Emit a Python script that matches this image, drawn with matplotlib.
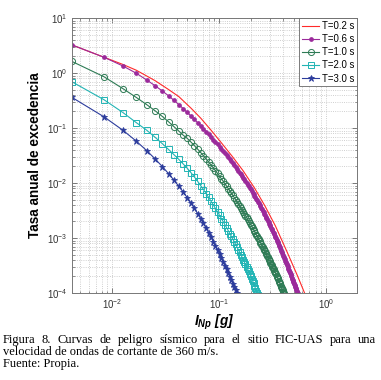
import matplotlib
matplotlib.use('Agg')
import numpy as np
import matplotlib.pyplot as plt
from matplotlib.ticker import LogLocator, NullFormatter

plt.rcParams['font.family'] = ['Liberation Sans', 'DejaVu Sans']
plt.rcParams['mathtext.fontset'] = 'custom'
plt.rcParams['mathtext.rm'] = 'Liberation Sans'
plt.rcParams['mathtext.it'] = 'Liberation Sans:italic:bold'
plt.rcParams['mathtext.bf'] = 'Liberation Sans:bold'

# ---------------- data ----------------
# intensity grid (g) shared by the marker series
intensity_g = [
    0.0042, 0.0084, 0.0126, 0.0168, 0.0210, 0.0252, 0.0294, 0.0336, 0.0378, 0.0420,
    0.0462, 0.0504, 0.0546, 0.0588, 0.0630, 0.0672, 0.0714, 0.0756, 0.0798, 0.0840,
    0.0882, 0.0924, 0.0966, 0.1008, 0.1050, 0.1092, 0.1134, 0.1176, 0.1218, 0.1260,
    0.1302, 0.1344, 0.1386, 0.1428, 0.1470, 0.1512, 0.1554, 0.1596, 0.1638, 0.1680,
    0.1722, 0.1764, 0.1806, 0.1848, 0.1890, 0.1932, 0.1974, 0.2016, 0.2058, 0.2100,
    0.2142, 0.2184, 0.2226, 0.2268, 0.2310, 0.2352, 0.2394, 0.2436, 0.2478, 0.2520,
    0.2562, 0.2604, 0.2646, 0.2688, 0.2730, 0.2772, 0.2814, 0.2856, 0.2898, 0.2940,
    0.2982, 0.3024, 0.3066, 0.3108, 0.3150, 0.3192, 0.3234, 0.3276, 0.3318, 0.3360,
    0.3402, 0.3444, 0.3486, 0.3528, 0.3570, 0.3612, 0.3654, 0.3696, 0.3738, 0.3780,
    0.3822, 0.3864, 0.3906, 0.3948, 0.3990, 0.4032, 0.4074, 0.4116, 0.4158, 0.4200,
    0.4242, 0.4284, 0.4326, 0.4368, 0.4410, 0.4452, 0.4494, 0.4536, 0.4578, 0.4620,
    0.4662, 0.4704, 0.4746, 0.4788, 0.4830, 0.4872, 0.4914, 0.4956, 0.4998, 0.5040,
    0.5082, 0.5124, 0.5166, 0.5208, 0.5250, 0.5292, 0.5334, 0.5376, 0.5418, 0.5460,
]

# T = 0.2 s (line only)
t02_intensity = [0.0042, 0.0084, 0.0126, 0.0168, 0.0252, 0.0336, 0.0420, 0.0546, 0.0672, 0.0840,
                 0.1050, 0.1344, 0.1680, 0.2142, 0.2688, 0.3360, 0.4326, 0.5418, 0.6300, 0.6720]
t02_log10_rate = [0.51, 0.285, 0.155, 0.05, -0.14, -0.30, -0.43, -0.64, -0.82, -1.04,
                  -1.27, -1.53, -1.78, -2.09, -2.42, -2.78, -3.255, -3.69, -4.00, -4.16]

# T = 0.6 s
t06_log10_rate = [
    0.51, 0.285, 0.127, -0.005, -0.127, -0.232, -0.327, -0.414, -0.497, -0.575,
    -0.649, -0.718, -0.783, -0.845, -0.904, -0.960, -1.014, -1.066, -1.116, -1.164,
    -1.210, -1.254, -1.297, -1.339, -1.380, -1.420, -1.459, -1.497, -1.534, -1.570,
    -1.606, -1.641, -1.676, -1.710, -1.744, -1.777, -1.810, -1.842, -1.874, -1.905,
    -1.936, -1.967, -1.998, -2.028, -2.058, -2.088, -2.117, -2.146, -2.175, -2.204,
    -2.232, -2.260, -2.288, -2.316, -2.344, -2.371, -2.398, -2.425, -2.452, -2.479,
    -2.505, -2.532, -2.558, -2.584, -2.610, -2.636, -2.662, -2.687, -2.712, -2.738,
    -2.763, -2.788, -2.813, -2.837, -2.862, -2.886, -2.910, -2.934, -2.958, -2.982,
    -3.006, -3.029, -3.053, -3.076, -3.099, -3.122, -3.145, -3.168, -3.190, -3.213,
    -3.235, -3.258, -3.280, -3.302, -3.324, -3.346, -3.367, -3.389, -3.410, -3.432,
    -3.453, -3.474, -3.495, -3.516, -3.537, -3.557, -3.578, -3.598, -3.618, -3.639,
    -3.659, -3.679, -3.699, -3.719, -3.738, -3.758, -3.778, -3.797, -3.816, -3.836,
    -3.855, -3.874, -3.893, -3.912, -3.931, -3.950, -3.968, -3.987, -4.005, -4.023,
]

# T = 1.0 s
t10_log10_rate = [
    0.21, -0.07, -0.285, -0.445, -0.575, -0.688, -0.790, -0.886, -0.976, -1.057,
    -1.132, -1.190, -1.257, -1.322, -1.385, -1.446, -1.505, -1.563, -1.619, -1.673,
    -1.726, -1.777, -1.827, -1.876, -1.923, -1.969, -2.014, -2.058, -2.101, -2.143,
    -2.185, -2.225, -2.265, -2.304, -2.342, -2.380, -2.417, -2.453, -2.489, -2.524,
    -2.558, -2.592, -2.626, -2.659, -2.692, -2.724, -2.756, -2.787, -2.818, -2.849,
    -2.879, -2.909, -2.939, -2.968, -2.997, -3.026, -3.054, -3.082, -3.110, -3.138,
    -3.165, -3.192, -3.218, -3.245, -3.271, -3.297, -3.323, -3.348, -3.373, -3.398,
    -3.423, -3.447, -3.471, -3.495, -3.519, -3.543, -3.567, -3.591, -3.614, -3.638,
    -3.661, -3.684, -3.707, -3.730, -3.753, -3.776, -3.799, -3.822, -3.844, -3.866,
    -3.888, -3.910, -3.932, -3.954, -3.976, -3.998, -4.019,
]

# T = 2.0 s
t20_log10_rate = [
    -0.16, -0.488, -0.720, -0.903, -1.040, -1.170, -1.285, -1.390, -1.485, -1.572,
    -1.655, -1.734, -1.814, -1.893, -1.971, -2.047, -2.121, -2.193, -2.263, -2.331,
    -2.398, -2.463, -2.526, -2.587, -2.646, -2.704, -2.760, -2.815, -2.868, -2.920,
    -2.971, -3.020, -3.069, -3.117, -3.165, -3.212, -3.258, -3.304, -3.349, -3.393,
    -3.437, -3.480, -3.523, -3.566, -3.608, -3.651, -3.694, -3.737, -3.781, -3.825,
    -3.869, -3.913, -3.957, -4.001, -4.045,
]

# T = 3.0 s
t30_log10_rate = [
    -0.444, -0.799, -1.042, -1.240, -1.411, -1.563, -1.701, -1.829, -1.948, -2.061,
    -2.166, -2.268, -2.367, -2.463, -2.557, -2.648, -2.736, -2.822, -2.906, -2.987,
    -3.066, -3.143, -3.219, -3.293, -3.365, -3.436, -3.505, -3.572, -3.638, -3.703,
    -3.767, -3.829, -3.890, -3.950, -4.009, -4.070,
]

labels = ['T=0.2 s', 'T=0.6 s', 'T=1.0 s', 'T=2.0 s', 'T=3.0 s']
x_ticks = [1e-2, 1e-1, 1e0]
y_ticks = [1e-4, 1e-3, 1e-2, 1e-1, 1e0, 1e1]

caption_lines = [
    'Figura 8. Curvas de peligro sísmico para el sitio FIC-UAS para una',
    'velocidad de ondas de cortante de 360 m/s.',
    'Fuente: Propia.',
]

# ---------------- figure ----------------
W, H = 381, 380
fig = plt.figure(figsize=(W / 100, H / 100), dpi=100)
ax = fig.add_axes([72 / W, 1 - 293 / H, (357 - 72) / W, (293 - 18) / H])

xg = np.array(intensity_g)

def rate(arr):
    return 10.0 ** np.array(arr)

ax.plot(t02_intensity, rate(t02_log10_rate), '-', color='#FF2A2A', lw=0.8, label=labels[0])
ax.plot(xg[:len(t06_log10_rate)], rate(t06_log10_rate), '-', color='#9B2A9B', lw=0.8,
        marker='.', ms=4.8, label=labels[1])
ax.plot(xg[:len(t10_log10_rate)], rate(t10_log10_rate), '-', color='#2E7B55', lw=0.8,
        marker='o', ms=4.4, mfc='none', mew=0.7, label=labels[2])
ax.plot(xg[:len(t20_log10_rate)], rate(t20_log10_rate), '-', color='#22B4B4', lw=0.8,
        marker='s', ms=4.0, mfc='none', mew=0.7, label=labels[3])
ax.plot(xg[:len(t30_log10_rate)], rate(t30_log10_rate), '-', color='#2C3C9C', lw=0.8,
        marker='*', ms=4.8, mew=0.6, label=labels[4])

ax.set_xscale('log')
ax.set_yscale('log')
ax.set_xlim(0.0042, 1.95)
ax.set_ylim(1e-4, 1e1)
ax.set_xticks(x_ticks)
ax.set_yticks(y_ticks)
ax.xaxis.set_minor_locator(LogLocator(base=10, subs=np.arange(2, 10), numticks=20))
ax.yaxis.set_minor_locator(LogLocator(base=10, subs=np.arange(2, 10), numticks=20))
ax.xaxis.set_minor_formatter(NullFormatter())
ax.yaxis.set_minor_formatter(NullFormatter())

ax.grid(True, which='both', linestyle=':', color='#c0c0c0', linewidth=0.6)
ax.set_axisbelow(True)
ax.tick_params(which='both', direction='in', top=True, right=True,
               colors='#666666', labelcolor='#333333', labelsize=7)
ax.tick_params(which='major', length=3.5, width=0.6)
ax.tick_params(which='minor', length=1.8, width=0.5)
ax.tick_params(axis='x', pad=3)
ax.tick_params(axis='y', pad=3.5)
for sp in ax.spines.values():
    sp.set_color('#777777')
    sp.set_linewidth(0.7)

ax.set_ylabel('Tasa anual de excedencia', fontsize=9.8, fontweight='bold', labelpad=3)
ax.set_xlabel('$I_{Np}$ [g]', fontsize=9.8, fontweight='bold', style='italic', labelpad=1)

leg = ax.legend(loc='upper right', borderaxespad=0, fontsize=6.9, handlelength=1.8,
                handletextpad=0.25, borderpad=0.3, labelspacing=0.33, fancybox=False,
                framealpha=1, edgecolor='#666666')
leg.get_frame().set_linewidth(0.6)

# ---------------- caption (justified first line) ----------------
serif = ['Liberation Serif', 'DejaVu Serif']
cap_fs = 9.0
fig.canvas.draw()
renderer = fig.canvas.get_renderer()
words = caption_lines[0].split(' ')
y1 = 1 - 343 / H
txts = [fig.text(0, y1, w, fontsize=cap_fs, family=serif, va='baseline', ha='left') for w in words]
widths = [t.get_window_extent(renderer).width for t in txts]
x_left, x_right = 3.0, 376.0
gap = (x_right - x_left - sum(widths)) / (len(words) - 1)
pos = x_left
for t, w in zip(txts, widths):
    t.set_x(pos / W)
    pos += w + gap
fig.text(x_left / W, 1 - 355 / H, caption_lines[1], fontsize=cap_fs, family=serif, va='baseline')
fig.text(x_left / W, 1 - 367 / H, caption_lines[2], fontsize=cap_fs, family=serif, va='baseline')

fig.savefig('out.png', dpi=100)
